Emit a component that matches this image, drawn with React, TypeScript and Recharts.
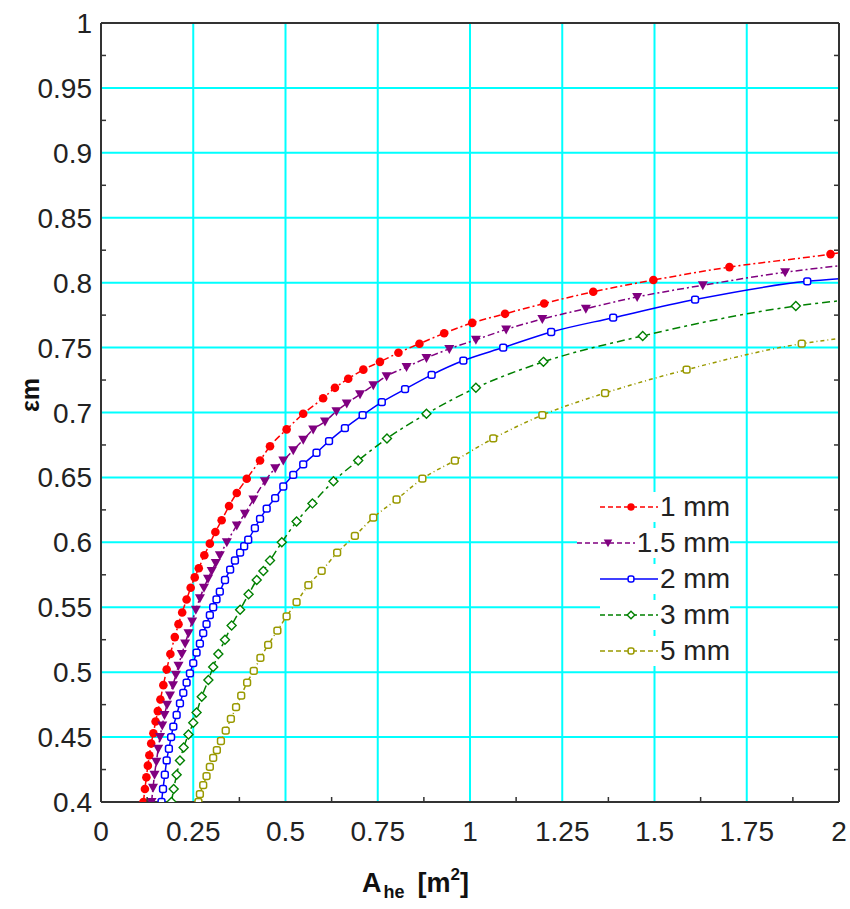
import { LineChart, Line, XAxis, YAxis, CartesianGrid, Label } from "recharts";

// tick values
const xMajor = [0, 0.25, 0.5, 0.75, 1, 1.25, 1.5, 1.75, 2];
const xMinor = [0.125, 0.375, 0.625, 0.875, 1.125, 1.375, 1.625, 1.875];
const yMajor = [0.4, 0.45, 0.5, 0.55, 0.6, 0.65, 0.7, 0.75, 0.8, 0.85, 0.9, 0.95, 1];
const yMinor = [0.425, 0.475, 0.525, 0.575, 0.625, 0.675, 0.725, 0.775, 0.825, 0.875, 0.925, 0.975];

// 1 mm
const x1mm = [0.115, 0.119, 0.123, 0.127, 0.131, 0.136, 0.142, 0.148, 0.154, 0.161, 0.169, 0.178, 0.188, 0.2, 0.21, 0.22, 0.232, 0.243, 0.254, 0.265, 0.28, 0.295, 0.31, 0.327, 0.347, 0.368, 0.395, 0.431, 0.458, 0.503, 0.548, 0.602, 0.634, 0.67, 0.711, 0.756, 0.806, 0.863, 0.93, 1.006, 1.095, 1.201, 1.334, 1.497, 1.703, 1.977, 2.0];
const y1mm = [0.4, 0.41, 0.419, 0.428, 0.436, 0.445, 0.453, 0.462, 0.47, 0.479, 0.49, 0.502, 0.514, 0.527, 0.537, 0.546, 0.556, 0.565, 0.573, 0.58, 0.59, 0.599, 0.608, 0.617, 0.628, 0.638, 0.649, 0.663, 0.674, 0.687, 0.699, 0.711, 0.719, 0.726, 0.733, 0.739, 0.746, 0.753, 0.761, 0.769, 0.776, 0.784, 0.793, 0.802, 0.812, 0.822, 0.823];

// 1.5 mm
const x15mm = [0.137, 0.141, 0.145, 0.15, 0.155, 0.16, 0.166, 0.172, 0.179, 0.187, 0.195, 0.203, 0.21, 0.219, 0.228, 0.237, 0.247, 0.257, 0.268, 0.279, 0.29, 0.3, 0.311, 0.322, 0.341, 0.368, 0.39, 0.413, 0.444, 0.472, 0.494, 0.521, 0.548, 0.575, 0.607, 0.638, 0.666, 0.702, 0.738, 0.774, 0.828, 0.882, 0.944, 1.016, 1.098, 1.196, 1.314, 1.453, 1.631, 1.854, 2.0];
const y15mm = [0.4, 0.411, 0.421, 0.431, 0.441, 0.45, 0.459, 0.467, 0.475, 0.482, 0.49, 0.498, 0.505, 0.514, 0.522, 0.53, 0.539, 0.548, 0.557, 0.565, 0.572, 0.578, 0.584, 0.59, 0.6, 0.613, 0.622, 0.633, 0.647, 0.657, 0.663, 0.671, 0.679, 0.687, 0.693, 0.701, 0.707, 0.714, 0.721, 0.728, 0.735, 0.742, 0.749, 0.756, 0.764, 0.772, 0.78, 0.789, 0.798, 0.808, 0.813];

// 2 mm
const x2mm = [0.164, 0.168, 0.173, 0.178, 0.184, 0.19, 0.196, 0.205, 0.214, 0.223, 0.232, 0.241, 0.25, 0.259, 0.268, 0.277, 0.286, 0.295, 0.304, 0.313, 0.322, 0.336, 0.35, 0.363, 0.377, 0.388, 0.399, 0.417, 0.431, 0.449, 0.472, 0.494, 0.521, 0.548, 0.584, 0.618, 0.661, 0.709, 0.761, 0.824, 0.896, 0.982, 1.09, 1.22, 1.388, 1.61, 1.914, 2.0];
const y2mm = [0.4, 0.41, 0.421, 0.432, 0.441, 0.45, 0.458, 0.467, 0.476, 0.484, 0.492, 0.499, 0.507, 0.515, 0.522, 0.53, 0.537, 0.544, 0.55, 0.556, 0.562, 0.571, 0.579, 0.586, 0.592, 0.597, 0.602, 0.611, 0.618, 0.626, 0.634, 0.643, 0.652, 0.66, 0.669, 0.678, 0.688, 0.698, 0.708, 0.718, 0.729, 0.74, 0.75, 0.762, 0.773, 0.787, 0.801, 0.803];

// 3 mm
const x3mm = [0.191, 0.197, 0.205, 0.214, 0.224, 0.237, 0.25, 0.259, 0.273, 0.291, 0.304, 0.318, 0.336, 0.354, 0.377, 0.4, 0.422, 0.44, 0.458, 0.49, 0.53, 0.573, 0.63, 0.697, 0.775, 0.882, 1.016, 1.199, 1.468, 1.883, 2.0];
const y3mm = [0.4, 0.41, 0.421, 0.432, 0.442, 0.452, 0.461, 0.469, 0.481, 0.494, 0.504, 0.514, 0.525, 0.536, 0.548, 0.56, 0.571, 0.578, 0.586, 0.6, 0.616, 0.63, 0.647, 0.663, 0.68, 0.699, 0.719, 0.739, 0.759, 0.782, 0.786];

// 5 mm
const x5mm = [0.264, 0.268, 0.277, 0.286, 0.295, 0.304, 0.314, 0.325, 0.338, 0.352, 0.366, 0.38, 0.396, 0.414, 0.432, 0.453, 0.478, 0.503, 0.53, 0.562, 0.598, 0.64, 0.688, 0.738, 0.801, 0.871, 0.959, 1.063, 1.196, 1.366, 1.587, 1.899, 2.0];
const y5mm = [0.4, 0.406, 0.413, 0.42, 0.427, 0.434, 0.44, 0.447, 0.455, 0.464, 0.473, 0.482, 0.492, 0.501, 0.511, 0.521, 0.532, 0.543, 0.554, 0.567, 0.578, 0.592, 0.605, 0.619, 0.633, 0.649, 0.663, 0.68, 0.698, 0.715, 0.733, 0.753, 0.757];

const toPoints = (xs: number[], ys: number[]) => xs.map((x, i) => ({ x, y: ys[i] }));

const series = [
  { name: "1 mm", data: toPoints(x1mm, y1mm), color: "#FF0000", dash: "7 3 2 3", shape: "dot" },
  { name: "1.5 mm", data: toPoints(x15mm, y15mm), color: "#800080", dash: "7 3 2 3", shape: "tri" },
  { name: "2 mm", data: toPoints(x2mm, y2mm), color: "#0000FF", dash: undefined, shape: "square" },
  { name: "3 mm", data: toPoints(x3mm, y3mm), color: "#008000", dash: "8 4 3 4", shape: "diamond" },
  { name: "5 mm", data: toPoints(x5mm, y5mm), color: "#999900", dash: "4 3 1 3", shape: "square" },
];

const TICK_COLOR = "#333";
const FONT = "Arial, 'Liberation Sans', sans-serif";

const Marker = ({ cx, cy, shape, color, s = 1 }: any) => {
  if (shape === "dot") return <circle cx={cx} cy={cy} r={4.3 * s} fill={color} />;
  if (shape === "tri") {
    const w = 5 * s;
    return <polygon points={`${cx - w},${cy - 4 * s} ${cx + w},${cy - 4 * s} ${cx},${cy + 5 * s}`} fill={color} />;
  }
  if (shape === "diamond") {
    const d = 4.5 * s;
    return (
      <polygon
        points={`${cx},${cy - d} ${cx + d},${cy} ${cx},${cy + d} ${cx - d},${cy}`}
        fill="#fff"
        stroke={color}
        strokeWidth={1.4}
      />
    );
  }
  const h = 3.4 * s;
  return <rect x={cx - h} y={cy - h} width={2 * h} height={2 * h} rx={2} fill="#fff" stroke={color} strokeWidth={1.5} />;
};

const makeDot = (shape: string, color: string) => (props: any) => {
  const { cx, cy, index, payload } = props;
  if (payload.x >= 2) return <g key={`d${index}`} />;
  return (
    <g key={`d${index}`}>
      <Marker cx={cx} cy={cy} shape={shape} color={color} />
    </g>
  );
};

const BottomTick = (props: any) => {
  const { x, y, payload } = props;
  const v = payload.value;
  const major = xMajor.includes(v);
  return (
    <g>
      {!major && <line x1={x} x2={x} y1={y} y2={y - 5} stroke={TICK_COLOR} strokeWidth={1.5} />}
      {major && (
        <text x={x} y={y + 39} textAnchor="middle" fontSize={28} fontFamily={FONT} fill="#222">
          {String(v)}
        </text>
      )}
    </g>
  );
};

const TopTick = (props: any) => {
  const { x, y, payload } = props;
  if (xMajor.includes(payload.value)) return <g />;
  return <line x1={x} x2={x} y1={y} y2={y + 5} stroke={TICK_COLOR} strokeWidth={1.5} />;
};

const LeftTick = (props: any) => {
  const { x, y, payload } = props;
  const v = payload.value;
  const major = yMajor.includes(v);
  return (
    <g>
      {!major && <line x1={x} x2={x + 5} y1={y} y2={y} stroke={TICK_COLOR} strokeWidth={1.5} />}
      {major && (
        <text x={x - 9} y={y} dy="0.36em" textAnchor="end" fontSize={28} fontFamily={FONT} fill="#222">
          {String(v)}
        </text>
      )}
    </g>
  );
};

const RightTick = (props: any) => {
  const { x, y, payload } = props;
  if (yMajor.includes(payload.value)) return <g />;
  return <line x1={x} x2={x - 5} y1={y} y2={y} stroke={TICK_COLOR} strokeWidth={1.5} />;
};

const XTitle = (props: any) => {
  const { viewBox } = props;
  const x0 = viewBox.x + 261;
  const yb = viewBox.y + 90;
  return (
    <text x={x0} y={yb} fontFamily={FONT} fontWeight="bold" fontSize={27} fill="#111">
      A
      <tspan fontSize={18} dy={6} dx={2}>he</tspan>
      <tspan dx={13} dy={-6}>[m</tspan>
      <tspan fontSize={17} dy={-12}>2</tspan>
      <tspan dy={12}>]</tspan>
    </text>
  );
};

const YTitle = (props: any) => {
  const { viewBox } = props;
  const cx = viewBox.x + 30;
  const cy = viewBox.y + 372;
  return (
    <text
      x={cx}
      y={cy}
      transform={`rotate(-90, ${cx}, ${cy})`}
      textAnchor="middle"
      dy="0.35em"
      fontFamily={FONT}
      fontWeight="bold"
      fontSize={25}
      fill="#111"
    >
      εm
    </text>
  );
};

const axisLine = { stroke: "#333", strokeWidth: 2 };

export default function App() {
  return (
    <div style={{ position: "absolute", left: 0, top: 0, width: 850, height: 909, background: "#fff" }}>
      <LineChart width={850} height={909} margin={{ top: 22, right: 10, bottom: 0, left: 0 }}>
        <CartesianGrid
          xAxisId="x"
          yAxisId="y"
          stroke="#00FFFF"
          strokeWidth={2}
          verticalValues={xMajor}
          horizontalValues={yMajor}
        />
        <XAxis
          xAxisId="x"
          dataKey="x"
          type="number"
          domain={[0, 2]}
          allowDataOverflow
          ticks={[...xMajor, ...xMinor]}
          interval={0}
          height={107}
          tickSize={0}
          tickMargin={0}
          tickLine={false}
          axisLine={axisLine}
          tick={BottomTick}
        >
          <Label content={XTitle} />
        </XAxis>
        <XAxis
          xAxisId="xt"
          orientation="top"
          type="number"
          domain={[0, 2]}
          allowDataOverflow
          ticks={xMinor}
          interval={0}
          height={1}
          tickSize={0}
          tickMargin={0}
          tickLine={false}
          axisLine={axisLine}
          tick={TopTick}
        />
        <YAxis
          yAxisId="y"
          type="number"
          domain={[0.4, 1]}
          allowDataOverflow
          ticks={[...yMajor, ...yMinor]}
          interval={0}
          width={101}
          tickSize={0}
          tickMargin={0}
          tickLine={false}
          axisLine={axisLine}
          tick={LeftTick}
        >
          <Label content={YTitle} />
        </YAxis>
        <YAxis
          yAxisId="yr"
          orientation="right"
          type="number"
          domain={[0.4, 1]}
          allowDataOverflow
          ticks={yMinor}
          interval={0}
          width={1}
          tickSize={0}
          tickMargin={0}
          tickLine={false}
          axisLine={axisLine}
          tick={RightTick}
        />
        {series.map((s) => (
          <Line
            key={s.name}
            xAxisId="x"
            yAxisId="y"
            data={s.data}
            dataKey="y"
            name={s.name}
            type="monotone"
            stroke={s.color}
            strokeWidth={1.5}
            strokeDasharray={s.dash}
            dot={makeDot(s.shape, s.color)}
            activeDot={false}
            isAnimationActive={false}
          />
        ))}
      </LineChart>

      {/* legend */}
      <div style={{ position: "absolute", left: 530, top: 489, width: 200 }}>
        {series.map((s) => (
          <div key={s.name} style={{ height: 36, display: "flex", justifyContent: "flex-end", alignItems: "center" }}>
            <span style={{ display: "flex", alignItems: "center", background: "#fff", height: 30 }}>
              <svg width={58} height={20}>
                <line x1={0} x2={58} y1={10} y2={10} stroke={s.color} strokeWidth={1.5} strokeDasharray={s.dash ? "5 3" : undefined} />
                <Marker cx={31} cy={10} shape={s.shape} color={s.color} s={0.85} />
              </svg>
              <span style={{ fontFamily: FONT, fontSize: 28, lineHeight: "30px", color: "#222", marginLeft: 2 }}>{s.name}</span>
            </span>
          </div>
        ))}
      </div>
    </div>
  );
}
